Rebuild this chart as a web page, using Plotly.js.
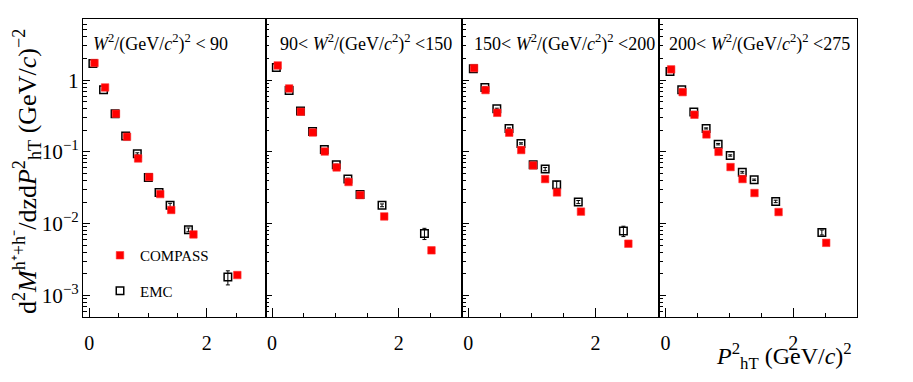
<!DOCTYPE html>
<html><head><meta charset="utf-8">
<script src="https://cdn.plot.ly/plotly-3.0.1.min.js"></script>
<style>html,body{margin:0;padding:0;background:#fff}</style>
</head><body>
<div id="chart" style="width:913px;height:382px"></div>
<script>
// ---- data ----
var panelLabels = [
  '<i>W</i><sup>2</sup>/(GeV/<i>c</i><sup>2</sup>)<sup>2</sup> < 90',
  '90< <i>W</i><sup>2</sup>/(GeV/<i>c</i><sup>2</sup>)<sup>2</sup> <150',
  '150< <i>W</i><sup>2</sup>/(GeV/<i>c</i><sup>2</sup>)<sup>2</sup> <200',
  '200< <i>W</i><sup>2</sup>/(GeV/<i>c</i><sup>2</sup>)<sup>2</sup> <275'
];
var compassX = [0.09, 0.27, 0.455, 0.643, 0.832, 1.02, 1.208, 1.395, 1.772, 2.518];
var compassY1 = [1.73, 0.79, 0.34, 0.162, 0.081, 0.0446, 0.0258, 0.0155, 0.00708, 0.00192];
var compassY2 = [1.6, 0.764, 0.362, 0.186, 0.101, 0.0607, 0.038, 0.025, 0.0126, 0.00424];
var compassY3 = [1.47, 0.726, 0.35, 0.185, 0.106, 0.0647, 0.0418, 0.0272, 0.0147, 0.00525];
var compassY4 = [1.41, 0.68, 0.329, 0.175, 0.1, 0.0614, 0.0418, 0.0267, 0.0145, 0.0054];

var emcX1 = [0.063, 0.244, 0.44, 0.62, 0.818, 1.005, 1.187, 1.375, 1.687, 2.357];
var emcY1 = [1.7, 0.733, 0.34, 0.166, 0.094, 0.044, 0.0272, 0.018, 0.0082, 0.0018];
var emcE1 = [0.04, 0.015, 0.008, 0.004, 0.003, 0.0012, 0.0009, 0.0012, 0.0005, 0.0004];
var emcX2 = [0.068, 0.27, 0.45, 0.64, 0.826, 1.015, 1.198, 1.39, 1.737, 2.407];
var emcY2 = [1.5, 0.716, 0.37, 0.192, 0.108, 0.066, 0.042, 0.0255, 0.018, 0.0073];
var emcE2 = [0.04, 0.015, 0.008, 0.004, 0.003, 0.0015, 0.001, 0.0008, 0.0008, 0.0013];
var emcX3 = [0.078, 0.26, 0.448, 0.64, 0.828, 1.02, 1.209, 1.39, 1.73, 2.44];
var emcY3 = [1.44, 0.79, 0.398, 0.212, 0.131, 0.066, 0.0576, 0.0348, 0.02, 0.0079];
var emcE3 = [0.04, 0.015, 0.008, 0.004, 0.003, 0.0015, 0.003, 0.004, 0.001, 0.0013];
var emcX4 = [0.072, 0.256, 0.445, 0.638, 0.826, 1.015, 1.204, 1.39, 1.727, 2.45];
var emcY4 = [1.32, 0.733, 0.358, 0.212, 0.128, 0.089, 0.052, 0.0408, 0.0204, 0.00755];
var emcE4 = [0.04, 0.015, 0.008, 0.004, 0.003, 0.002, 0.0015, 0.001, 0.0008, 0.0006];

var yTitle = 'd<sup>2</sup><i>M</i><sup>h⁺+h⁻</sup>/dzd<i>P</i><sup>2</sup><sub>hT</sub> (GeV/<i>c</i>)<sup>−2</sup>';
var xTitle = '<i>P</i><sup>2</sup><sub>hT</sub> (GeV/<i>c</i>)<sup>2</sup>';

var compassY = [compassY1, compassY2, compassY3, compassY4];
var emcX = [emcX1, emcX2, emcX3, emcX4];
var emcY = [emcY1, emcY2, emcY3, emcY4];
var emcE = [emcE1, emcE2, emcE3, emcE4];

// ---- layout geometry (pixels) ----
var W = 913, H = 382;
var panelEdges = [83.3, 265.7, 462, 659, 857];
var yTop = 19, yBot = 317;
var labelX = [91, 278, 472, 667];
function px(x){ return x / W; }
function py(y){ return 1 - y / H; }

var font = 'Liberation Serif';
var traces = [];
var layout = {
  width: W, height: H,
  margin: {l:0, r:0, t:0, b:0},
  paper_bgcolor: '#fff', plot_bgcolor: '#fff',
  font: {family: font, color: '#000'},
  showlegend: true,
  legend: {
    x: px(100), y: py(239), xanchor: 'left', yanchor: 'top',
    bgcolor: 'rgba(0,0,0,0)', font: {family: font, size: 15, color: '#000'},
    tracegroupgap: 13, traceorder: 'grouped'
  },
  annotations: []
};

for (var i = 0; i < 4; i++) {
  var s = i === 0 ? '' : String(i + 1);
  traces.push({
    type: 'scatter', mode: 'markers', x: emcX[i], y: emcY[i],
    xaxis: 'x' + s, yaxis: 'y' + s, name: 'EMC', legendgroup: 'emc', legendrank: 2,
    showlegend: i === 0,
    marker: {symbol: 'square-open', size: 7.5, color: '#000', line: {width: 1.5, color: '#000'}},
    error_y: {type: 'data', array: emcE[i], visible: true, color: '#000', thickness: 1, width: 2}
  });
  traces.push({
    type: 'scatter', mode: 'markers', x: compassX, y: compassY[i],
    xaxis: 'x' + s, yaxis: 'y' + s, name: 'COMPASS', legendgroup: 'compass', legendrank: 1,
    showlegend: i === 0,
    marker: {symbol: 'square', size: 7.5, color: '#ff0000', line: {width: 0.6, color: '#ff3030'}}
  });
  layout['xaxis' + s] = {
    domain: [px(panelEdges[i]), px(panelEdges[i + 1])],
    anchor: 'y' + s, range: [-0.1, 3.0],
    tick0: 0, dtick: 2, ticks: 'inside', ticklen: 9, tickwidth: 1, tickcolor: '#000',
    minor: {dtick: 0.5, tick0: 0, ticks: 'inside', ticklen: 4.5, tickwidth: 1, tickcolor: '#000', showgrid: false},
    showline: true, linewidth: 1.2, linecolor: '#000', mirror: true,
    showgrid: false, zeroline: false,
    tickfont: {family: font, size: 20, color: '#000'},
    ticklabelstandoff: 8
  };
  layout['yaxis' + s] = {
    domain: [py(yBot), py(yTop)],
    anchor: 'x' + s, type: 'log',
    range: [Math.log10(5e-4), Math.log10(7.1)],
    dtick: 1, exponentformat: 'power',
    ticks: 'inside', ticklen: 6.5, tickwidth: 1, tickcolor: '#000',
    minor: {dtick: 'D1', ticks: 'inside', ticklen: 3.5, tickwidth: 1, tickcolor: '#000', showgrid: false},
    showline: true, linewidth: 1.2, linecolor: '#000', mirror: true,
    showgrid: false, zeroline: false,
    showticklabels: i === 0,
    tickfont: {family: font, size: 17, color: '#000'}
  };
  layout.annotations.push({
    xref: 'paper', yref: 'paper', x: px(labelX[i]), y: py(43),
    xanchor: 'left', yanchor: 'middle', showarrow: false,
    text: panelLabels[i], font: {family: font, size: 18, color: '#000'}
  });
}

layout.annotations.push({
  xref: 'paper', yref: 'paper', x: px(27), y: py(172),
  xanchor: 'center', yanchor: 'middle', showarrow: false, textangle: -90,
  text: yTitle, font: {family: font, size: 26, color: '#000'}
});
layout.annotations.push({
  xref: 'paper', yref: 'paper', x: px(854), y: py(356),
  xanchor: 'right', yanchor: 'middle', showarrow: false,
  text: xTitle, font: {family: font, size: 24, color: '#000'}
});

Plotly.newPlot('chart', traces, layout, {displayModeBar: false, staticPlot: true});
</script>
</body></html>
